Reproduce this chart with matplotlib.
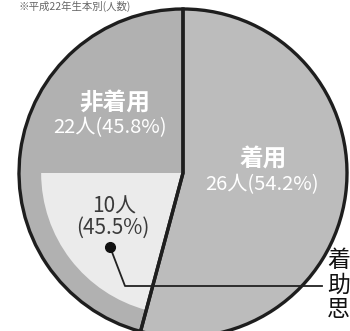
import numpy as np
import matplotlib
matplotlib.use('Agg')
import matplotlib.pyplot as plt

plt.rcParams['font.family'] = ['Noto Sans CJK JP', 'DejaVu Sans']

# data
labels = ['着用', '非着用']
counts = [26, 22]
pct_labels = ['26人(54.2%)', '22人(45.8%)']
sub_count = 10          # within 非着用
sub_label = ['10人', '(45.5%)']
side_text = '着\n助\n思'
title_text = '※平成22年生本別(人数)'

W, H = 350, 331
fig = plt.figure(figsize=(W / 100, H / 100), dpi=100)
ax = fig.add_axes([0, 0, 1, 1])

def Y(y):
    return H - y

cx, cy, R = 183, Y(173), 164
edge = '#1e1e1e'

# outer pie
ax.pie(counts, startangle=90, counterclock=False, center=(cx, cy), radius=R,
       colors=['#bcbcbc', '#b1b1b1'], wedgeprops=dict(linewidth=0), frame=True)

# light sub-wedge inside 非着用
inner = [counts[0], sub_count, counts[1] - sub_count]
wedges, _ = ax.pie(inner, startangle=90, counterclock=False, center=(cx, cy), radius=R * 0.865,
                   colors=['none', '#ebebeb', 'none'], wedgeprops=dict(linewidth=0), frame=True)

# edges on top
ax.pie(counts, startangle=90, counterclock=False, center=(cx, cy), radius=R,
       colors=['none', 'none'], wedgeprops=dict(linewidth=2.4, edgecolor=edge), frame=True)
ax.set_xlim(0, W)
ax.set_ylim(0, H)
ax.set_aspect('equal')
ax.axis('off')

# labels
ax.text(263, Y(160), labels[0], ha='center', va='center', color='white',
        fontsize=17, fontweight='bold')
ax.text(262, Y(185), pct_labels[0], ha='center', va='center', color='white', fontsize=14.5)
ax.text(115, Y(104), labels[1], ha='center', va='center', color='white',
        fontsize=17, fontweight='bold')
ax.text(110, Y(128), pct_labels[1], ha='center', va='center', color='white', fontsize=14.5)
ax.text(114, Y(207), sub_label[0], ha='center', va='center', color='#3a3a3a', fontsize=15)
ax.text(113, Y(228), sub_label[1], ha='center', va='center', color='#3a3a3a', fontsize=15)

# leader line from the sub wedge
w = wedges[1]
ang = np.deg2rad((w.theta1 + w.theta2) / 2 + 8)
dx, dy = cx + 104 * np.cos(ang), cy + 104 * np.sin(ang)
ax.plot([dx, 125, 322], [dy, Y(286), Y(286)], color='#222222', lw=1.3)
ax.plot(dx, dy, 'o', color='#111111', ms=7)

ax.text(327, Y(285), side_text, ha='left', va='center', color='#111111',
        fontsize=16.5, linespacing=1.1)
ax.text(18, Y(6), title_text, ha='left', va='center', color='#666666', fontsize=7.5)

fig.savefig('out.png', dpi=100)
